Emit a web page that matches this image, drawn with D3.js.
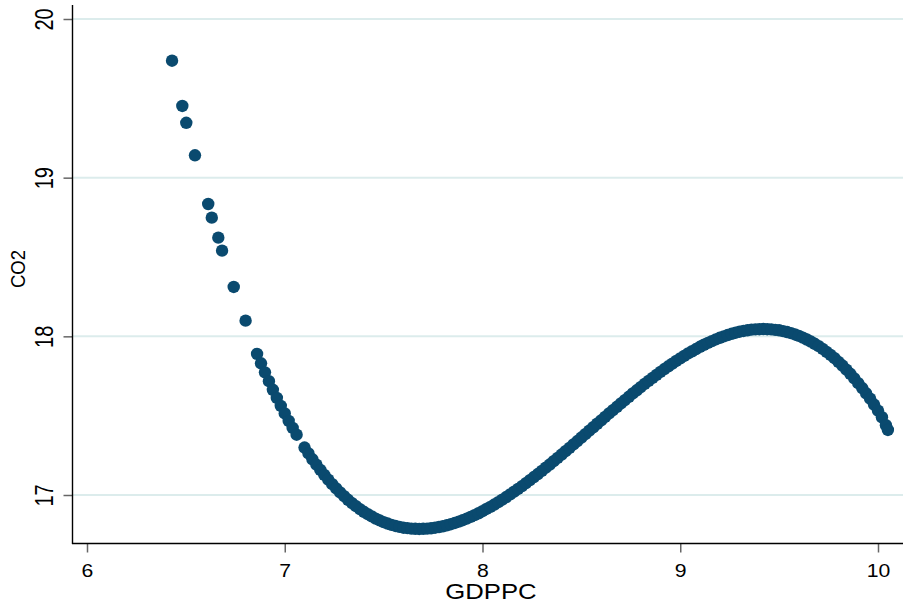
<!DOCTYPE html>
<html>
<head>
<meta charset="utf-8">
<script src="https://cdn.jsdelivr.net/npm/d3@7"></script>
<style>
  body { margin: 0; background: #fff; }
  svg { display: block; font-family: "Liberation Sans", Arial, Helvetica, sans-serif; }
</style>
</head>
<body>
<div id="chart"></div>
<script>
// GDPPC values (x)
const gdppc = [
  6.430, 6.482, 6.502, 6.546, 6.613, 6.631, 6.664, 6.683, 6.742, 6.802,
  6.86, 6.88, 6.90, 6.92, 6.94, 6.96, 6.98, 7.00, 7.02, 7.04, 7.06,
  7.10, 7.12, 7.14, 7.16, 7.18, 7.20, 7.22, 7.24, 7.26, 7.28, 7.30,
  7.32, 7.34, 7.36, 7.38, 7.40, 7.42, 7.44, 7.46, 7.48, 7.50,
  7.52, 7.54, 7.56, 7.58, 7.60, 7.62, 7.64, 7.66, 7.68, 7.70,
  7.72, 7.74, 7.76, 7.78, 7.80, 7.82, 7.84, 7.86, 7.88, 7.90,
  7.92, 7.94, 7.96, 7.98, 8.00, 8.02, 8.04, 8.06, 8.08, 8.10,
  8.12, 8.14, 8.16, 8.18, 8.20, 8.22, 8.24, 8.26, 8.28, 8.30,
  8.32, 8.34, 8.36, 8.38, 8.40, 8.42, 8.44, 8.46, 8.48, 8.50,
  8.52, 8.54, 8.56, 8.58, 8.60, 8.62, 8.64, 8.66, 8.68, 8.70,
  8.72, 8.74, 8.76, 8.78, 8.80, 8.82, 8.84, 8.86, 8.88, 8.90,
  8.92, 8.94, 8.96, 8.98, 9.00, 9.02, 9.04, 9.06, 9.08, 9.10,
  9.12, 9.14, 9.16, 9.18, 9.20, 9.22, 9.24, 9.26, 9.28, 9.30,
  9.32, 9.34, 9.36, 9.38, 9.40, 9.42, 9.44, 9.46, 9.48, 9.50,
  9.52, 9.54, 9.56, 9.58, 9.60, 9.62, 9.64, 9.66, 9.68, 9.70,
  9.72, 9.74, 9.76, 9.78, 9.80, 9.82, 9.84, 9.86, 9.88, 9.90,
  9.92, 9.94, 9.96, 9.98, 10.00, 10.02, 10.04, 10.05
];

// CO2 values (y), same order as gdppc
const co2 = [
  19.737, 19.452, 19.346, 19.141, 18.834, 18.748, 18.622, 18.540, 18.311, 18.099,
  17.889, 17.830, 17.773, 17.717, 17.663, 17.612, 17.562, 17.514, 17.467, 17.423, 17.380,
  17.299, 17.262, 17.225, 17.191, 17.158, 17.127, 17.097, 17.068, 17.042, 17.016, 16.993,
  16.970, 16.949, 16.930, 16.911, 16.894, 16.879, 16.865, 16.851, 16.840, 16.829,
  16.820, 16.812, 16.805, 16.799, 16.794, 16.791, 16.788, 16.787, 16.786, 16.787,
  16.788, 16.790, 16.794, 16.798, 16.803, 16.809, 16.816, 16.824, 16.832, 16.841,
  16.851, 16.862, 16.873, 16.885, 16.898, 16.912, 16.925, 16.940, 16.955, 16.971,
  16.987, 17.004, 17.021, 17.038, 17.056, 17.075, 17.094, 17.113, 17.132, 17.152,
  17.172, 17.192, 17.213, 17.234, 17.255, 17.276, 17.297, 17.319, 17.340, 17.362,
  17.383, 17.405, 17.427, 17.449, 17.470, 17.492, 17.514, 17.535, 17.556, 17.577,
  17.598, 17.619, 17.640, 17.660, 17.680, 17.700, 17.719, 17.738, 17.757, 17.776,
  17.794, 17.811, 17.828, 17.845, 17.861, 17.877, 17.892, 17.906, 17.920, 17.934,
  17.947, 17.959, 17.970, 17.981, 17.991, 18.000, 18.008, 18.016, 18.023, 18.029,
  18.034, 18.038, 18.042, 18.044, 18.045, 18.046, 18.045, 18.044, 18.041, 18.038,
  18.033, 18.027, 18.020, 18.012, 18.003, 17.992, 17.980, 17.967, 17.953, 17.938,
  17.921, 17.902, 17.883, 17.862, 17.839, 17.816, 17.790, 17.764, 17.735, 17.705,
  17.674, 17.641, 17.607, 17.570, 17.532, 17.490, 17.440, 17.410
];

// tick values
const xTicks = [6, 7, 8, 9, 10];
const yTicks = [17, 18, 19, 20];

function scatterChart() {
  const width = 903, height = 605;

  const svg = d3.select("#chart")
    .append("svg")
    .attr("width", width)
    .attr("height", height);

  // scales
  const x = d3.scaleLinear().domain([6, 10]).range([87, 878]);
  const y = d3.scaleLinear().domain([17, 20]).range([495, 19]);

  const axisX = 72.5, axisY = 543.5;

  // gridlines
  svg.append("g")
    .selectAll("line")
    .data(yTicks)
    .enter()
    .append("line")
    .attr("x1", axisX)
    .attr("x2", width)
    .attr("y1", d => y(d))
    .attr("y2", d => y(d))
    .attr("stroke", "#dcecec")
    .attr("stroke-width", 2);

  // points
  const pts = d3.zip(gdppc, co2);
  svg.append("g")
    .selectAll("circle")
    .data(pts)
    .enter()
    .append("circle")
    .attr("cx", d => x(d[0]))
    .attr("cy", d => y(d[1]))
    .attr("r", 6.2)
    .attr("fill", "#0a4a6f");

  // y axis
  const yAxis = svg.append("g")
    .attr("transform", `translate(${axisX},0)`)
    .call(d3.axisLeft(y).tickValues(yTicks).tickSize(9).tickSizeOuter(0).tickFormat(""));
  yAxis.select(".domain").remove();
  yAxis.selectAll(".tick line").attr("stroke", "#666").attr("stroke-width", 1.5);
  yAxis.selectAll(".tick").append("text")
    .attr("transform", "translate(-19.5,0) rotate(-90) scale(1,1.25)")
    .attr("text-anchor", "middle")
    .attr("fill", "#000")
    .attr("font-size", 20)
    .text(d => d);

  // x axis
  const xAxis = svg.append("g")
    .attr("transform", `translate(0,${axisY})`)
    .call(d3.axisBottom(x).tickValues(xTicks).tickSize(9).tickSizeOuter(0).tickFormat(""));
  xAxis.select(".domain").remove();
  xAxis.selectAll(".tick line").attr("stroke", "#666").attr("stroke-width", 1.5);
  xAxis.selectAll(".tick").append("text")
    .attr("transform", "translate(0,33.5) scale(1.14,1)")
    .attr("text-anchor", "middle")
    .attr("fill", "#000")
    .attr("font-size", 18.6)
    .text(d => d);

  // axis lines
  svg.append("line")
    .attr("x1", axisX).attr("x2", axisX)
    .attr("y1", 5).attr("y2", axisY + 0.5)
    .attr("stroke", "#000").attr("stroke-width", 1.4);
  svg.append("line")
    .attr("x1", axisX - 0.5).attr("x2", width)
    .attr("y1", axisY).attr("y2", axisY)
    .attr("stroke", "#000").attr("stroke-width", 1.4);

  // axis titles
  svg.append("text")
    .attr("transform", "translate(491,599) scale(1.2,1)")
    .attr("text-anchor", "middle")
    .attr("font-size", 21.4)
    .text("GDPPC");

  svg.append("text")
    .attr("transform", "translate(25,269) rotate(-90) scale(1,1.13)")
    .attr("text-anchor", "middle")
    .attr("font-size", 18.5)
    .text("CO2");

  return svg;
}

scatterChart();
</script>
</body>
</html>
